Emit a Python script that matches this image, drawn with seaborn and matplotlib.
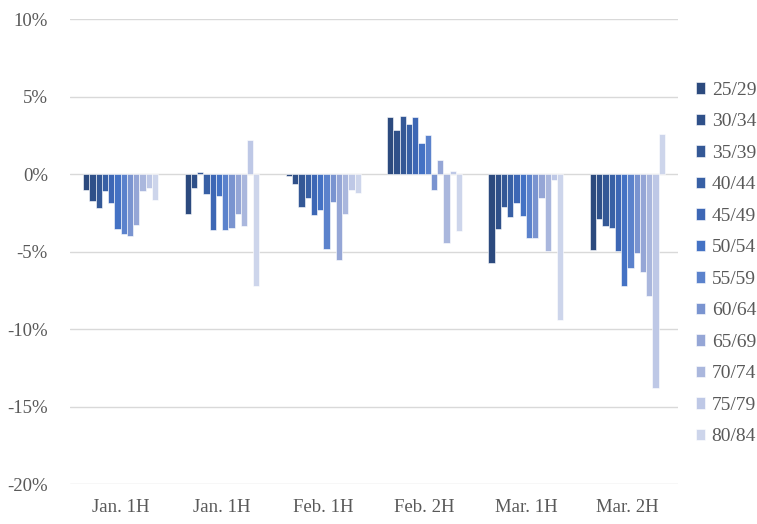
import pandas as pd
import seaborn as sns
import matplotlib.pyplot as plt
from matplotlib.ticker import FuncFormatter

# periods on the x axis (the label "Jan. 1H" appears twice in the source)
periods = ["Jan. 1H", "Jan. 1H ", "Feb. 1H", "Feb. 2H", "Mar. 1H", "Mar. 2H"]
ages = ["25/29", "30/34", "35/39", "40/44", "45/49", "50/54",
        "55/59", "60/64", "65/69", "70/74", "75/79", "80/84"]

# percent change, one list per period, in age order
jan_1h_a = [-1.0, -1.75, -2.2, -1.1, -1.85, -3.55, -3.9, -4.0, -3.3, -1.1, -0.9, -1.65]
jan_1h_b = [-2.6, -0.9, 0.15, -1.3, -3.6, -1.4, -3.6, -3.5, -2.6, -3.35, 2.2, -7.2]
feb_1h = [-0.1, -0.63, -2.1, -1.55, -2.65, -2.3, -4.85, -1.8, -5.55, -2.6, -1.0, -1.2]
feb_2h = [3.65, 2.85, 3.75, 3.25, 3.65, 2.0, 2.5, -1.0, 0.9, -4.45, 0.2, -3.7]
mar_1h = [-5.75, -3.55, -2.15, -2.75, -1.9, -2.7, -4.15, -4.15, -1.55, -4.95, -0.4, -9.45]
mar_2h = [-4.87, -2.9, -3.35, -3.5, -4.95, -7.2, -6.05, -5.1, -6.35, -7.9, -13.8, 2.55]

colors = ["#2C4A7E", "#2F5089", "#345896", "#3860A5", "#3D67B5", "#4472C4",
          "#5B82CC", "#7A94D0", "#95A6D6", "#AAB7DD", "#BEC8E6", "#CDD5EB"]

rows = []
for p, vals in zip(periods, [jan_1h_a, jan_1h_b, feb_1h, feb_2h, mar_1h, mar_2h]):
    for a, v in zip(ages, vals):
        rows.append({"period": p, "age": a, "change": v / 100})
df = pd.DataFrame(rows)

sns.set_style("white")
plt.rcParams["font.family"] = ["Liberation Serif", "DejaVu Serif"]

fig = plt.figure(figsize=(7.57, 5.24), dpi=100)
ax = fig.add_axes([0.0925, 0.0763, 0.8031, 0.8874])

sns.barplot(data=df, x="period", y="change", hue="age", palette=colors,
            saturation=1, width=0.74, edgecolor="white", linewidth=0.4,
            ax=ax, legend=True)

ax.set_ylim(-0.20, 0.10)
ax.set_yticks([-0.20, -0.15, -0.10, -0.05, 0.0, 0.05, 0.10])
ax.yaxis.set_major_formatter(FuncFormatter(lambda v, _: f"{v * 100:.0f}%"))
ax.set_xlim(-0.5, 5.5)
ax.grid(axis="y", color="#D9D9D9", linewidth=1)
ax.set_axisbelow(True)
for s in ax.spines.values():
    s.set_visible(False)
ax.tick_params(axis="both", length=0, labelsize=13.5, labelcolor="#595959")
ax.tick_params(axis="y", pad=16)
ax.tick_params(axis="x", pad=11)
ax.set_xticks(range(6))
ax.set_xticklabels([p.strip() for p in periods])
ax.set_xlabel("")
ax.set_ylabel("")

h, l = ax.get_legend_handles_labels()
ax.get_legend().remove()
fig.legend(h, l, loc="center left", bbox_to_anchor=(0.906, 0.497), frameon=False,
           fontsize=14, labelcolor="#595959", handlelength=0.5, handleheight=0.55,
           handletextpad=0.33, labelspacing=0.745, borderpad=0)

fig.savefig("out.png", dpi=100)
